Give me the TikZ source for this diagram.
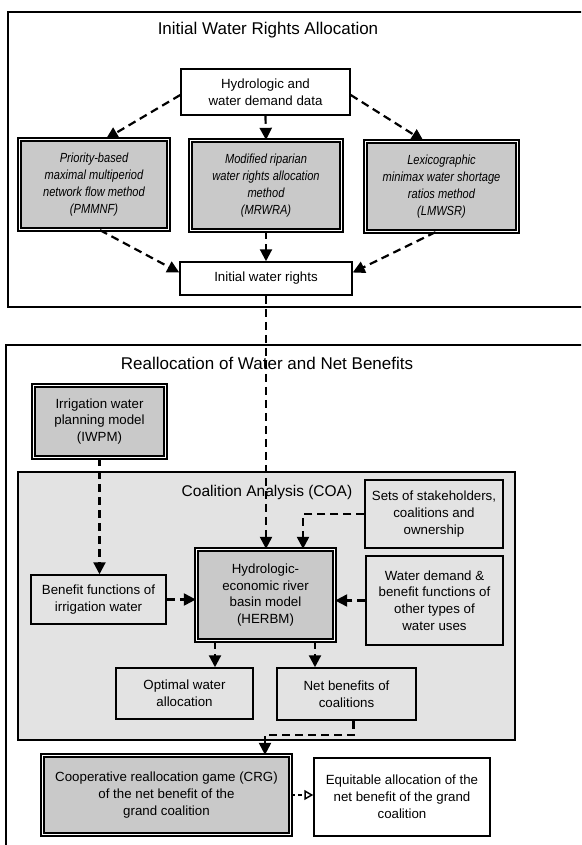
\documentclass[tikz,border=0pt]{standalone}
\usepackage{fontspec}
\setmainfont{Liberation Sans}
\newfontfamily\narrowfont[FakeStretch=0.84]{Liberation Sans}
\usepackage{xcolor}
\usepackage{tikz}
\usetikzlibrary{positioning,arrows.meta}

\begin{document}
\begin{tikzpicture}[
  x=1pt, y=-1pt,
  box/.style={draw, line width=1.5pt, align=center, inner sep=0pt, font=\fontsize{13.3}{16.8}\selectfont},
  wbox/.style={box, fill=white},
  dbox/.style={box, fill=gray!42, line width=1.3pt, double=white, double distance=1.7pt},
  itbox/.style={dbox, font=\narrowfont\itshape\fontsize{13.2}{17}\selectfont},
  frame/.style={draw, line width=1.8pt},
  ttl/.style={font=\fontsize{17}{19}\selectfont},
  arr/.style={-{Triangle[length=12pt,width=12pt]}, line width=2.2pt, dash pattern=on 8pt off 5pt},
  oarr/.style={-{Triangle[open,length=9pt,width=10pt,line width=1.5pt]}, line width=2.2pt, dash pattern=on 4pt off 3pt}
]
\clip (0,0) rectangle (581,845);
\fill[white] (0,0) rectangle (581,845);

\draw[frame] (8,12) rectangle (600,307);
\draw[frame] (6,345) rectangle (600,870);
\node[ttl] (t1) at (268,30) {Initial Water Rights Allocation};
\node[ttl] (t2) at (267,363) {Reallocation of Water and Net Benefits};

\node[wbox, minimum width=169pt, minimum height=46pt] (hyd) at (265.5,92) {Hydrologic and\\water demand data};
\node[itbox, minimum width=149pt, minimum height=90pt] (pmm) at (94,184.5) {Priority-based\\maximal multiperiod\\network flow method\\(PMMNF)};
\node[itbox, minimum width=151pt, minimum height=90pt] (mrw) at (266,185.5) {Modified riparian\\water rights allocation\\method\\(MRWRA)};
\node[itbox, minimum width=152pt, minimum height=90pt] (lmw) at (441.5,186.5) {Lexicographic\\minimax water shortage\\ratios method\\(LMWSR)};
\node[wbox, minimum width=172pt, minimum height=33pt] (iwr) at (266,278.5) {Initial water rights};

\node[dbox, minimum width=132pt, minimum height=72pt] (iwpm) at (99.5,421.5) {Irrigation water\\planning model\\(IWPM)};
\node[box, fill=gray!22, minimum width=497pt, minimum height=268pt] (coa) at (266.5,606) {};
\node[font=\fontsize{15.5}{18}\selectfont] (coat) at (267,492) {Coalition Analysis (COA)};
\node[box, minimum width=138pt, minimum height=68pt] (sets) at (434,514) {Sets of stakeholders,\\coalitions and\\ownership};
\node[box, minimum width=137pt, minimum height=89pt] (wdem) at (434.5,600.5) {Water demand \&\\benefit functions of\\other types of\\water uses};
\node[dbox, minimum width=138pt, minimum height=91pt] (herbm) at (265.5,595) {Hydrologic-\\economic river\\basin model\\(HERBM)};
\node[box, minimum width=135pt, minimum height=49pt] (bfun) at (98.5,599.5) {Benefit functions of\\irrigation water};
\node[box, minimum width=137pt, minimum height=51pt] (opt) at (184.5,693.5) {Optimal water\\allocation};
\node[box, minimum width=139pt, minimum height=52pt] (netb) at (346.5,694) {Net benefits of\\coalitions};
\node[dbox, minimum width=248pt, minimum height=79pt] (crg) at (166.5,795) {Cooperative reallocation game (CRG)\\of the net benefit of the\\grand coalition};
\node[wbox, minimum width=176pt, minimum height=78pt] (eqt) at (402,797) {Equitable allocation of the\\net benefit of the grand\\coalition};

\draw[arr] ([yshift=-3pt]hyd.west) -- ([xshift=12pt]pmm.north);
\draw[arr] (hyd.south) -- (mrw.north);
\draw[arr] ([yshift=-3pt]hyd.east) -- ([xshift=-18pt]lmw.north);
\draw[arr] ([xshift=6pt]pmm.south) -- ([yshift=6pt]iwr.west);
\draw[arr] (mrw.south) -- (iwr.north);
\draw[arr] ([xshift=-6pt]lmw.south) -- ([yshift=6pt]iwr.east);
\draw[arr] (iwr.south) -- (iwr.south |- herbm.north);
\draw[arr] (iwpm.south) -- (iwpm.south |- bfun.north);
\draw[arr] (bfun.east) -- (bfun.east -| herbm.west);
\draw[arr] (wdem.west) -- (wdem.west -| herbm.east);
\draw[arr] (sets.west) -| ([xshift=37.5pt]herbm.north);
\draw[arr] ([xshift=-50.5pt]herbm.south) -- ([xshift=-50.5pt]herbm.south |- opt.north);
\draw[arr] ([xshift=49.5pt]herbm.south) -- ([xshift=49.5pt]herbm.south |- netb.north);
\draw[arr] ([xshift=7pt]netb.south) -- ++(0,14) -| ([xshift=98.5pt]crg.north);
\draw[oarr] (crg.east) -- (crg.east -| eqt.west);
\end{tikzpicture}
\end{document}
